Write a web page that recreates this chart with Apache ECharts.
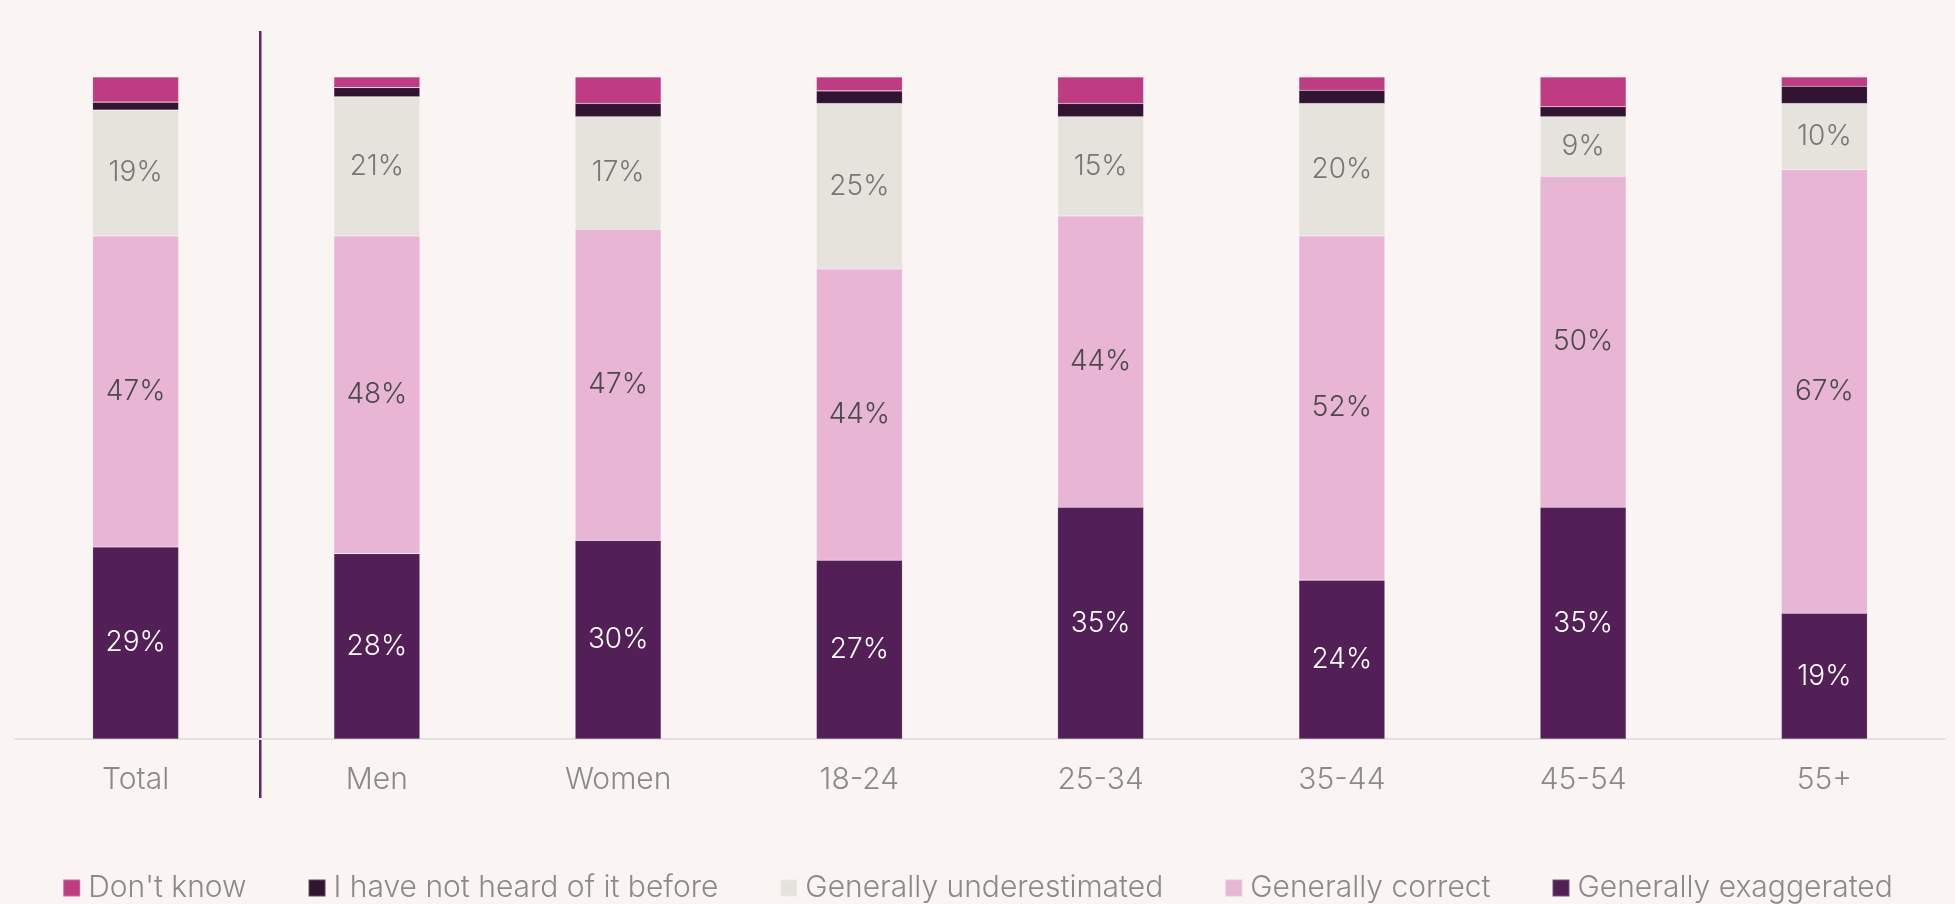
<!DOCTYPE html>
<html>
<head>
<meta charset="utf-8">
<script src="https://cdn.jsdelivr.net/npm/echarts@6/dist/echarts.min.js"></script>
<style>
  html, body { margin: 0; padding: 0; background: #FAF5F2; }
  #chart { width: 1955px; height: 904px; }
</style>
</head>
<body>
<div id="chart"></div>
<script>
// Audience groups along the x axis
const categories = ['Total', 'Men', 'Women', '18-24', '25-34', '35-44', '45-54', '55+'];

// Share of respondents per answer (%), stacked bottom to top
const exaggerated    = [29, 28, 30, 27, 35, 24, 35, 19];
const correct        = [47, 48, 47, 44, 44, 52, 50, 67];
const underestimated = [19, 21, 17, 25, 15, 20, 9, 10];
const notHeard       = [1.2, 1.4, 2, 1.9, 2, 2, 1.5, 2.6];
const dontKnow       = [3.8, 1.6, 4, 2.1, 4, 2, 4.5, 1.4];

const legendOrder = ['Don\'t know', 'I have not heard of it before', 'Generally underestimated', 'Generally correct', 'Generally exaggerated'];

const FONT = 'Inter, "Noto Sans", sans-serif';

function seg(name, data, color, label) {
  return {
    name: name,
    type: 'bar',
    stack: 'all',
    data: data,
    barWidth: 86,
    itemStyle: { color: color, borderColor: 'rgba(255,255,255,0.22)', borderWidth: 0.6 },
    label: label ? Object.assign({
      show: true,
      position: 'inside',
      formatter: p => p.value + '%',
      fontFamily: FONT,
      fontWeight: 300,
      fontSize: 28
    }, label) : { show: false },
    emphasis: { disabled: true }
  };
}

const chart = echarts.init(document.getElementById('chart'), null, { renderer: 'canvas' });

chart.setOption({
  backgroundColor: '#FAF5F2',
  animation: false,
  grid: { left: 15, right: 10, top: 77, bottom: 165 },
  xAxis: {
    type: 'category',
    data: categories,
    axisLine: { lineStyle: { color: '#E4E0E0', width: 2 } },
    axisTick: { show: false },
    axisLabel: { color: '#8A8A8A', fontFamily: FONT, fontWeight: 300, fontSize: 30, margin: 26 }
  },
  yAxis: { type: 'value', min: 0, max: 100, show: false, splitLine: { show: false } },
  legend: {
    data: legendOrder,
    top: 868,
    left: 'center',
    itemWidth: 17,
    itemHeight: 17,
    itemGap: 61,
    icon: 'rect',
    textStyle: { color: '#8A8A8A', fontFamily: FONT, fontWeight: 300, fontSize: 30, padding: [0, 0, 0, 3] }
  },
  series: [
    seg('Generally exaggerated', exaggerated, '#521F56', { color: '#FFFFFF' }),
    seg('Generally correct', correct, '#E8B6D4', { color: '#4A4A4A' }),
    seg('Generally underestimated', underestimated, '#E6E3DD', { color: '#777777' }),
    seg('I have not heard of it before', notHeard, '#311432', null),
    seg('Don\'t know', dontKnow, '#BF3B84', null)
  ]
});

// Vertical divider separating the Total column from the breakdowns
const x0 = chart.convertToPixel({ xAxisIndex: 0 }, 0);
const x1 = chart.convertToPixel({ xAxisIndex: 0 }, 1);
const yTop = chart.convertToPixel({ yAxisIndex: 0 }, 100);
const yBase = chart.convertToPixel({ yAxisIndex: 0 }, 0);
const xDiv = (x0 + x1) / 2 + 4;
chart.setOption({
  graphic: [{
    type: 'line',
    shape: { x1: xDiv, y1: yTop - 46, x2: xDiv, y2: yBase + 59 },
    style: { stroke: '#5B2A5E', lineWidth: 2.5 },
    silent: true
  }]
});
</script>
</body>
</html>
